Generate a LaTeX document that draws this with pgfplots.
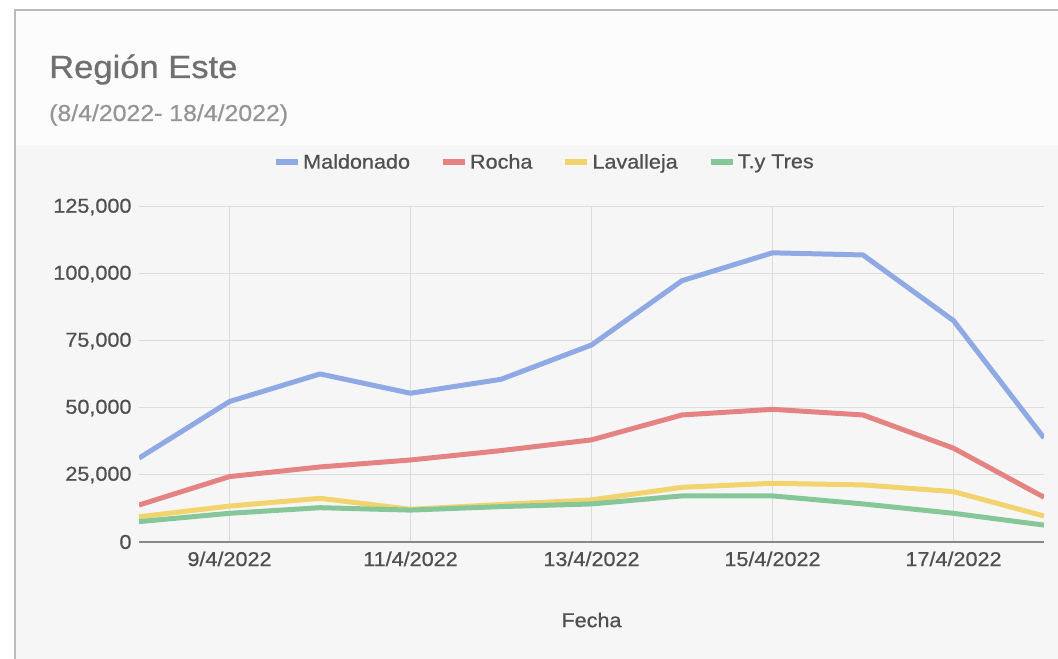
\documentclass[border=0pt]{standalone}
\usepackage{fontspec}
\setmainfont{Liberation Sans}[FakeStretch=1.08, FakeBold=0.7]
\usepackage{pgfplots}
\pgfplotsset{compat=1.18}

\definecolor{cBlue}{HTML}{8EA9E3}
\definecolor{cRed}{HTML}{E58383}
\definecolor{cYellow}{HTML}{F2D36E}
\definecolor{cGreen}{HTML}{86C79A}
\definecolor{cGrid}{HTML}{DCDCDC}
\definecolor{cText}{HTML}{505050}
\definecolor{cCard}{HTML}{F6F6F6}
\definecolor{cHead}{HTML}{FCFCFC}
\definecolor{cFrame}{HTML}{BBBBBB}
\definecolor{cTitle}{HTML}{707070}
\definecolor{cSub}{HTML}{959595}
\definecolor{cAxis}{HTML}{888888}

\begin{document}
\begin{tikzpicture}[x=1bp,y=1bp]
  % page and card background
  \useasboundingbox (0,0) rectangle (1058,659);
  \fill[white] (0,0) rectangle (1058,659);
  \fill[cCard] (15,0) rectangle (1058,649);
  \fill[cHead] (16,514) rectangle (1058,648);
  \draw[cFrame, line width=1.5bp] (15,0) -- (15,649) -- (1058,649);

  % title block
  \node[anchor=base west, inner sep=0pt, text=cTitle] at (49,581)
    {\fontsize{32bp}{36bp}\selectfont Región Este};
  \node[anchor=base west, inner sep=0pt, text=cSub] at (49,538)
    {\fontsize{23bp}{26bp}\selectfont (8/4/2022- 18/4/2022)};

  \begin{axis}[
    at={(139bp,117bp)}, anchor=south west,
    scale only axis, width=905bp, height=335bp,
    xmin=8, xmax=18, ymin=0, ymax=125000,
    xtick={9,11,13,15,17},
    xticklabels={9/4/2022,11/4/2022,13/4/2022,15/4/2022,17/4/2022},
    ytick={0,25000,50000,75000,100000,125000},
    scaled y ticks=false,
    /pgf/number format/fixed,
    /pgf/number format/1000 sep={,},
    /pgf/number format/assume math mode=true,
    ticklabel style={font=\fontsize{20bp}{22bp}\selectfont, text=cText},
    yticklabel style={xshift=-4bp},
    xticklabel style={yshift=-6bp},
    major tick length=0pt,
    grid=major,
    grid style={cGrid, line width=1bp},
    axis x line*=bottom,
    axis y line*=left,
    y axis line style={draw=none},
    x axis line style={draw=cAxis, line width=1.2bp, -},
    xlabel={Fecha},
    every axis x label/.style={at={(axis description cs:0.5,0)}, anchor=center,
      yshift=-78bp, font=\fontsize{20bp}{22bp}\selectfont, text=cText},
    legend columns=4,
    legend style={at={(axis description cs:0.448,1.134)}, anchor=center,
      draw=none, fill=none, font=\fontsize{20bp}{22bp}\selectfont, text=cText,
      /tikz/every even column/.append style={column sep=28bp}},
    legend image code/.code={\draw[line width=6bp] (0bp,0bp) -- (22bp,0bp);},
    every axis plot/.append style={line width=5bp, line join=round, no markers},
  ]
    \addplot[cBlue] coordinates {(8,31300) (9,52400) (10,62700) (11,55500) (12,60700)
      (13,73500) (14,97500) (15,107900) (16,107100) (17,82600) (18,38800)};
    \addplot[cRed] coordinates {(8,13800) (9,24400) (10,28000) (11,30600) (12,34100)
      (13,38100) (14,47400) (15,49500) (16,47400) (17,35000) (18,16700)};
    \addplot[cYellow] coordinates {(8,9400) (9,13400) (10,16300) (11,12200) (12,14000)
      (13,15700) (14,20400) (15,21900) (16,21300) (17,18800) (18,9700)};
    \addplot[cGreen] coordinates {(8,7600) (9,10700) (10,12800) (11,11900) (12,13200)
      (13,14200) (14,17200) (15,17200) (16,14200) (17,10700) (18,6300)};
    \legend{Maldonado, Rocha, Lavalleja, T.y Tres}
  \end{axis}
\end{tikzpicture}
\end{document}
